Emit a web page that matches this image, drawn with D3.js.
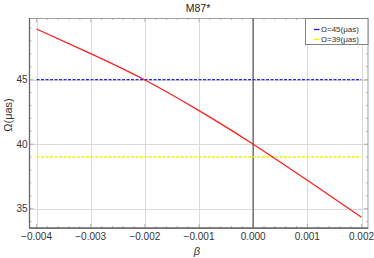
<!DOCTYPE html>
<html><head><meta charset="utf-8">
<script src="https://cdn.jsdelivr.net/npm/d3@7"></script>
<style>body{margin:0;background:#fff}svg{display:block;font-family:"Liberation Sans",Arial,sans-serif}</style>
</head><body><svg id="c" width="374" height="258"></svg>
<script>
const betaVals = [-0.004, -0.003, -0.002, -0.001, 0.000, 0.001, 0.002];
const omegaVals = [48.93, 47.02, 44.98, 42.6, 40.0, 37.2, 34.34];
const refLines = [{label:"Ω=45(μas)", value:45, color:"#2424f0"},{label:"Ω=39(μas)", value:39, color:"#f2f200"}];
const xTicks = [-0.004, -0.003, -0.002, -0.001, 0.000, 0.001, 0.002];
const yTicks = [35, 40, 45];

const svg = d3.select("#c");
const L=29.5, R=368, T=18, B=228;
const x = d3.scaleLinear().domain([-0.00413, 0.00212]).range([L, R]);
const y = d3.scaleLinear().domain([33.5, 49.78]).range([B, T]);
const px = v => Math.round(v) + 0.5;

// grid
svg.append("g").selectAll("line").data(xTicks.filter(d=>d!==0)).join("line")
  .attr("x1",d=>px(x(d))).attr("x2",d=>px(x(d))).attr("y1",T).attr("y2",B)
  .attr("stroke","#dadada").attr("stroke-width",1);
svg.append("g").selectAll("line").data(yTicks).join("line")
  .attr("x1",L).attr("x2",R).attr("y1",d=>px(y(d))).attr("y2",d=>px(y(d)))
  .attr("stroke","#dadada").attr("stroke-width",1);

// frame
svg.append("rect").attr("x",L).attr("y",T+0.5).attr("width",R-L).attr("height",B-T)
  .attr("fill","none").attr("stroke","#a0a0a0").attr("stroke-width",1);

// minor ticks
const minorX = d3.range(-0.004, 0.00201, 0.0002);
const minorY = d3.range(34, 50, 1);
const tk = svg.append("g").attr("stroke","#999").attr("stroke-width",0.7);
minorX.forEach(v=>{
  const isMaj = Math.abs(v*1000 - Math.round(v*1000))<1e-6;
  const len = isMaj?4:2;
  tk.append("line").attr("x1",x(v)).attr("x2",x(v)).attr("y1",B).attr("y2",B-len);
  tk.append("line").attr("x1",x(v)).attr("x2",x(v)).attr("y1",T).attr("y2",T+len);
});
minorY.forEach(v=>{
  const len = v%5===0?4:2;
  tk.append("line").attr("x1",L).attr("x2",L+len).attr("y1",y(v)).attr("y2",y(v));
  tk.append("line").attr("x1",R).attr("x2",R-len).attr("y1",y(v)).attr("y2",y(v));
});

// axes (left / bottom) darker
svg.append("line").attr("x1",L).attr("x2",L).attr("y1",T).attr("y2",B).attr("stroke","#666").attr("stroke-width",1.3);
svg.append("line").attr("x1",L).attr("x2",R).attr("y1",B).attr("y2",B).attr("stroke","#666").attr("stroke-width",1.3);

// zero vertical line
svg.append("line").attr("x1",x(0)).attr("x2",x(0)).attr("y1",T).attr("y2",B).attr("stroke","#777").attr("stroke-width",1.6);

// tick labels
svg.append("g").selectAll("text").data(xTicks).join("text")
  .attr("x",d=>x(d)).attr("y",B+12).attr("text-anchor","middle")
  .attr("font-size",10).attr("fill","#333")
  .text(d=>d3.format(".3f")(d).replace("-","\u2212"));
svg.append("g").selectAll("text").data(yTicks).join("text")
  .attr("x",L-2).attr("y",d=>y(d)+3.5).attr("text-anchor","end")
  .attr("font-size",10).attr("fill","#333").text(d=>d);

// reference dashed lines
refLines.forEach(r=>{
  svg.append("line").attr("x1",x(-0.004)).attr("x2",x(0.002)).attr("y1",y(r.value)).attr("y2",y(r.value))
    .attr("stroke",r.color).attr("stroke-width",1.4).attr("stroke-dasharray","3,1.5");
});

// curve
const data = betaVals.map((b,i)=>({b, o:omegaVals[i]}));
svg.append("path").datum(data)
  .attr("d", d3.line().x(d=>x(d.b)).y(d=>y(d.o)).curve(d3.curveNatural))
  .attr("fill","none").attr("stroke","#ff1a1a").attr("stroke-width",1.2);

// title & labels
svg.append("text").attr("x",198).attr("y",12).attr("text-anchor","middle").attr("font-size",10.5).attr("fill","#222").text("M87*");
svg.append("text").attr("x",197).attr("y",255).attr("text-anchor","middle").attr("font-size",11).attr("font-style","italic").attr("fill","#333").text("β");
svg.append("text").attr("transform","translate(12,115) rotate(-90)").attr("text-anchor","middle").attr("font-size",11).attr("fill","#333").text("Ω(μas)");

// legend
const lg = svg.append("g");
lg.append("rect").attr("x",305.5).attr("y",18.5).attr("width",62.5).attr("height",26).attr("fill","#fff").attr("stroke","#777").attr("stroke-width",0.9);
refLines.forEach((r,i)=>{
  const yy = 29.5 + i*10;
  lg.append("line").attr("x1",314).attr("x2",319.5).attr("y1",yy).attr("y2",yy).attr("stroke",r.color).attr("stroke-width",1.4);
  lg.append("text").attr("x",321).attr("y",yy+2.8).attr("font-size",8).attr("fill","#333").text(r.label);
});
</script></body></html>
